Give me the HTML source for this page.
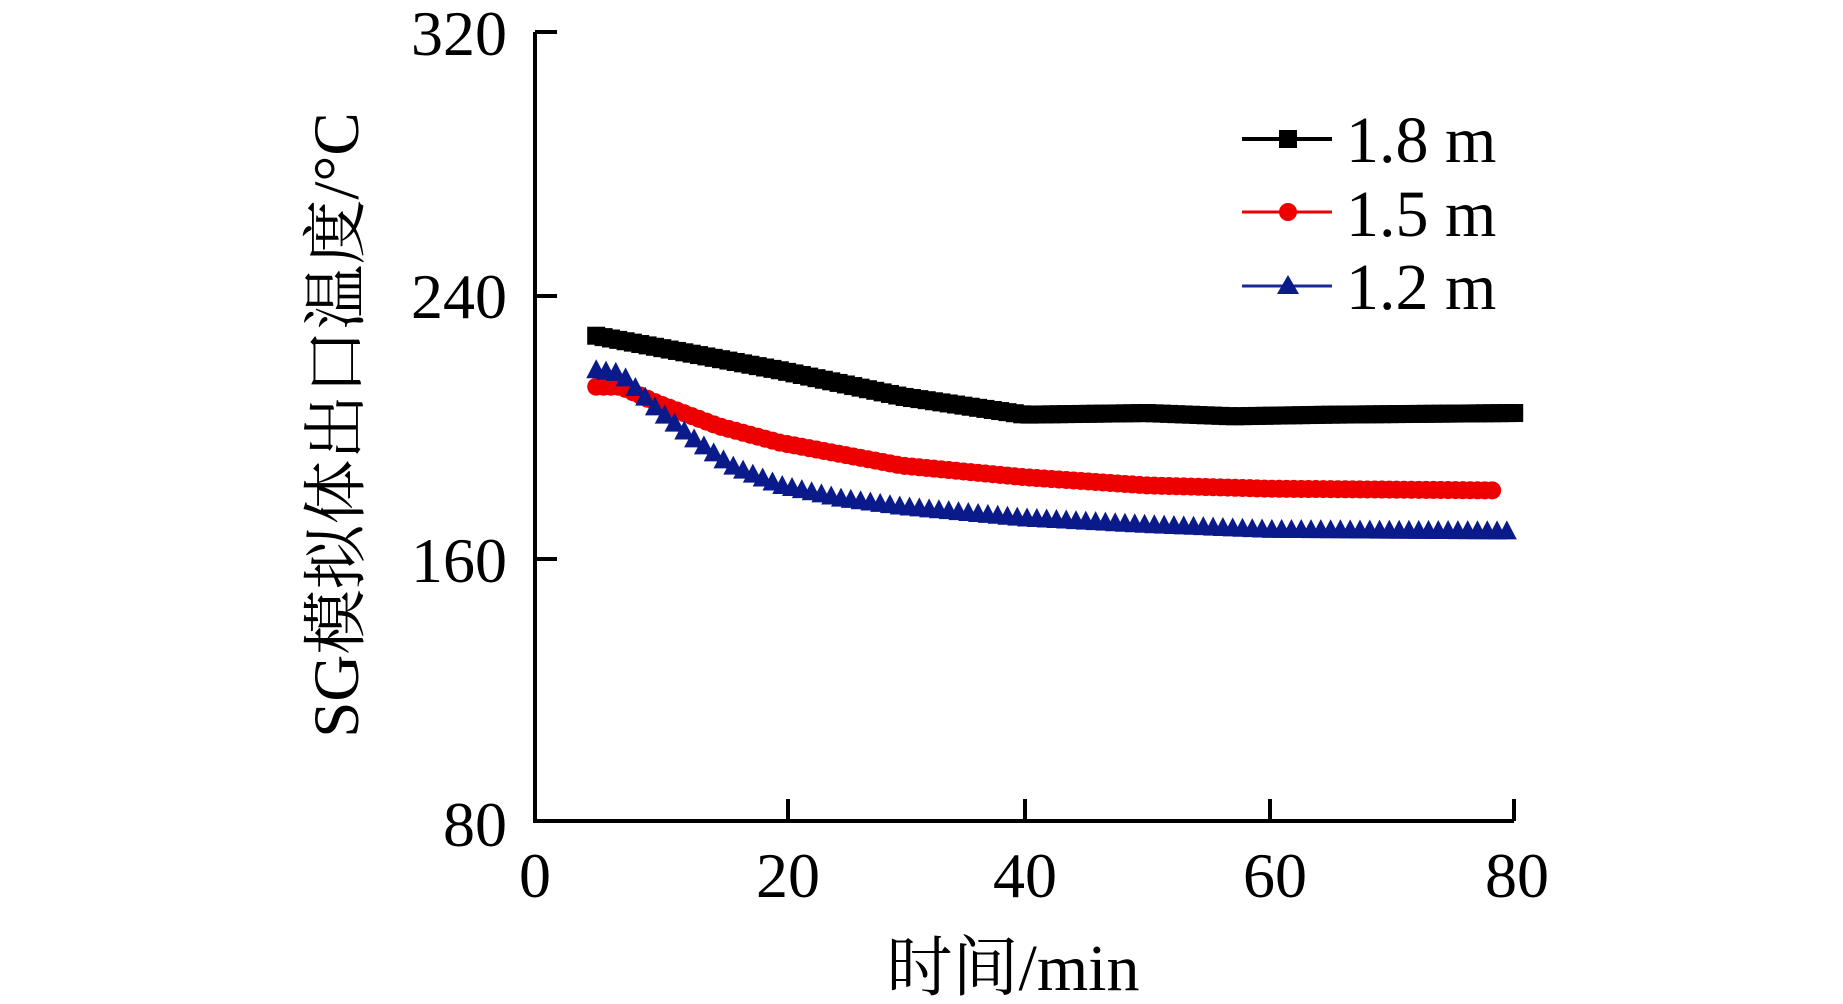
<!DOCTYPE html>
<html><head><meta charset="utf-8"><style>
html,body{margin:0;padding:0;background:#fff;width:1843px;height:1004px;overflow:hidden}
svg text{font-family:"Liberation Serif","Noto Serif CJK SC",serif;fill:#000}
</style></head><body>
<svg id="s" width="1843" height="1004" viewBox="0 0 1843 1004" xmlns="http://www.w3.org/2000/svg">
<g stroke="#000" stroke-width="4" fill="none">
<path d="M535 32 V821 H1514"/>
<path d="M535 32 H557 M535 296 H557 M535 559 H557"/>
<path d="M788 821 V799 M1025 821 V799 M1270 821 V799 M1514 821 V799"/>
</g>
<g font-size="64" text-anchor="end">
<text x="507" y="55">320</text>
<text x="507" y="318">240</text>
<text x="507" y="582">160</text>
<text x="507" y="846">80</text>
</g>
<g font-size="64" text-anchor="middle">
<text x="535" y="897">0</text>
<text x="788" y="897">20</text>
<text x="1025" y="897">40</text>
<text x="1275" y="897">60</text>
<text x="1517" y="897">80</text>
</g>
<text x="1013" y="990" font-size="66" text-anchor="middle">时间/min</text>
<text transform="translate(358,425) rotate(-90)" font-size="65" text-anchor="middle">SG模拟体出口温度/°C</text>
<g id="series"></g>
<g stroke-width="3">
<line x1="1242" y1="139" x2="1332" y2="139" stroke="#000" stroke-width="4"/>
<rect x="1279" y="130" width="18" height="18" fill="#000"/>
<line x1="1242" y1="212" x2="1332" y2="212" stroke="#e00"/>
<circle cx="1288" cy="212" r="9" fill="#e00"/>
<line x1="1242" y1="286" x2="1332" y2="286" stroke="#1a2a9a"/>
<polygon points="1288,275 1299,294 1277,294" fill="#0a1a8a"/>
</g>
<g font-size="66">
<text x="1346" y="162">1.8 m</text>
<text x="1346" y="236">1.5 m</text>
<text x="1346" y="309">1.2 m</text>
</g>
</svg>
<script>
var X=t=>535+t*12.24, Y=T=>821-(T-80)*3.29;
function interp(pts,t){for(var i=0;i<pts.length-1;i++){if(t<=pts[i+1][0]){var a=pts[i],b=pts[i+1];return a[1]+(b[1]-a[1])*(t-a[0])/(b[0]-a[0]);}}return pts[pts.length-1][1];}
var blk=[[5,227.5],[10,224],[20,217],[30,209],[40,203.5],[50,204],[57,203],[65,203.5],[80,204]];
var red=[[5,212],[7,212],[10,207],[15,200],[20,195],[30,188],[40,184.5],[50,182],[60,181],[78,180.5]];
var blu=[[5,217],[7,216],[10,205],[13,196],[16,188],[20,182],[25,178],[30,175.5],[40,172],[50,170],[60,168.5],[80,168]];
var g=document.getElementById('series'),h='';
function draw(pts,col,mk,t0,t1,st){var d='',m='';for(var t=t0;t<=t1+0.001;t+=st){var x=X(t),y=Y(interp(pts,t));d+=(d?'L':'M')+x.toFixed(1)+' '+y.toFixed(1);
if(mk=='s')m+='<rect x="'+(x-9)+'" y="'+(y-9)+'" width="18" height="18" fill="'+col+'"/>';
else if(mk=='c')m+='<circle cx="'+x+'" cy="'+y+'" r="9" fill="'+col+'"/>';
else m+='<polygon points="'+x+','+(y-11)+' '+(x+10)+','+(y+8)+' '+(x-10)+','+(y+8)+'" fill="'+col+'"/>';}
h+='<path d="'+d+'" stroke="'+col+'" stroke-width="3" fill="none"/>'+m;}
draw(blk,'#000','s',5,80,0.6);draw(red,'#e00','c',5,78.6,0.6);draw(blu,'#0a1a8a','t',5,80,0.8);
g.innerHTML=h;
</script>
</body></html>
